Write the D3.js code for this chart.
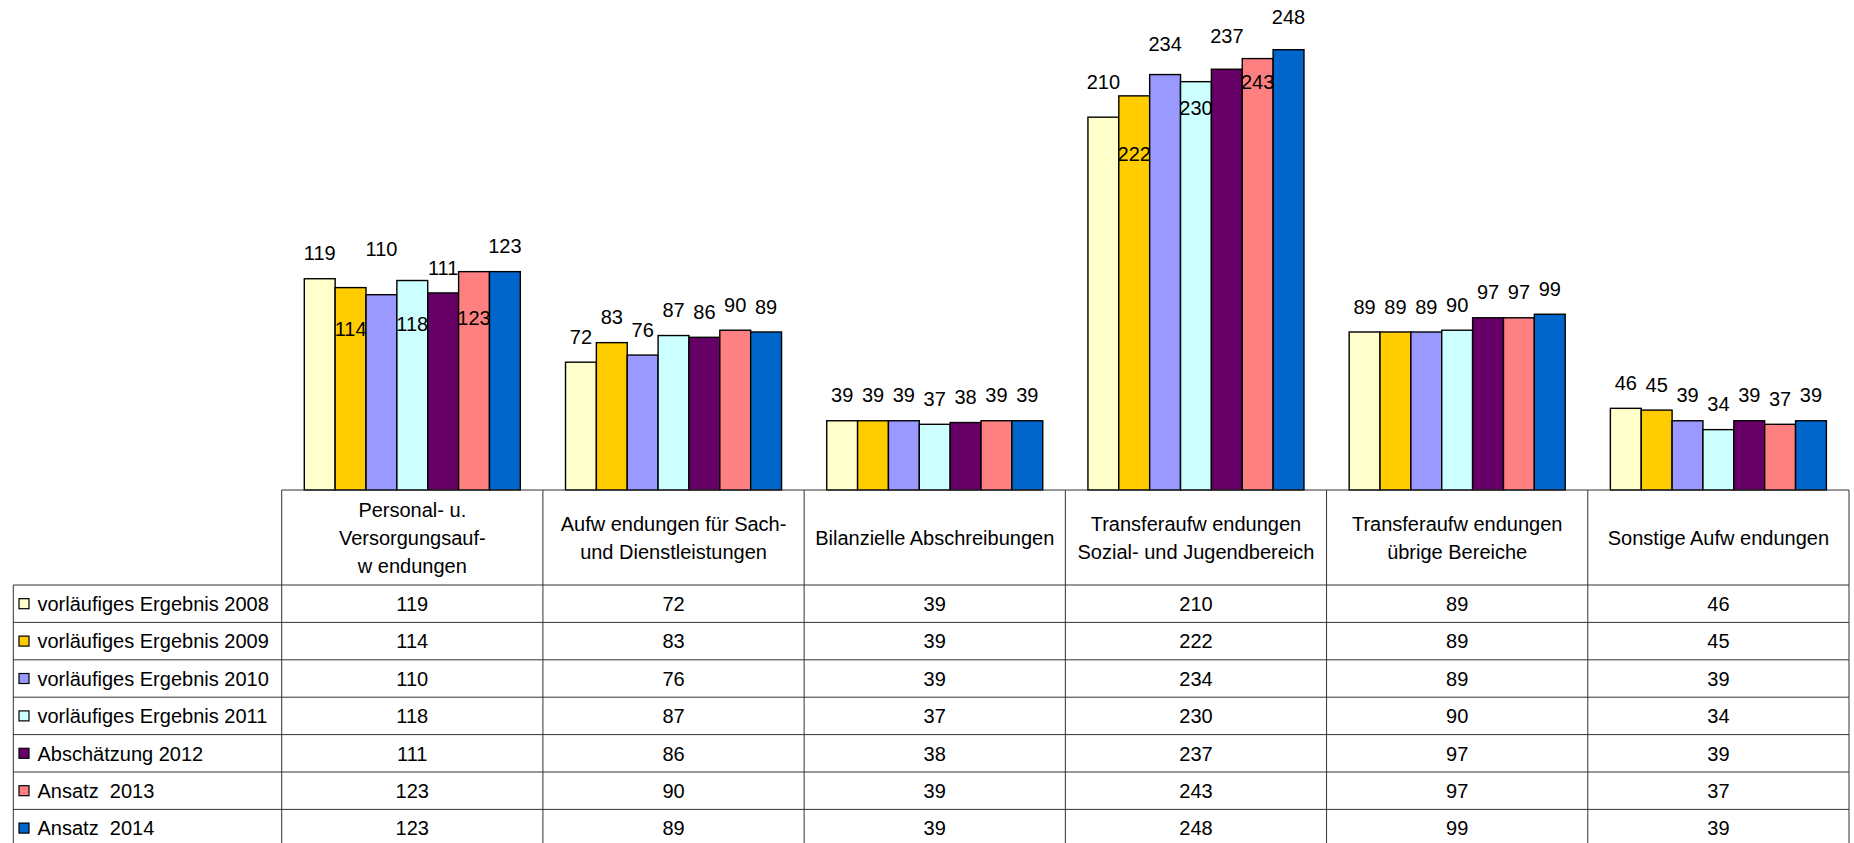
<!DOCTYPE html>
<html>
<head>
<meta charset="utf-8">
<script src="https://cdn.jsdelivr.net/npm/d3@7"></script>
<style>
  body { margin: 0; background: #fff; }
  text { font-family: "Liberation Sans", Arial, sans-serif; fill: #000; }
</style>
</head>
<body>
<div id="chart"></div>
<script>
// Category headers (one array entry per text line)
const categories = [
    ["Personal- u.", "Versorgungsauf-", "w endungen"],
    ["Aufw endungen für Sach-", "und Dienstleistungen"],
    ["Bilanzielle Abschreibungen"],
    ["Transferaufw endungen", "Sozial- und Jugendbereich"],
    ["Transferaufw endungen", "übrige Bereiche"],
    ["Sonstige Aufw endungen"]
];

const seriesNames = [
    "vorläufiges Ergebnis 2008",
    "vorläufiges Ergebnis 2009",
    "vorläufiges Ergebnis 2010",
    "vorläufiges Ergebnis 2011",
    "Abschätzung 2012",
    "Ansatz  2013",
    "Ansatz  2014"
];

// values[series][category]
const values = [
    [119, 72, 39, 210, 89, 46],
    [114, 83, 39, 222, 89, 45],
    [110, 76, 39, 234, 89, 39],
    [118, 87, 37, 230, 90, 34],
    [111, 86, 38, 237, 97, 39],
    [123, 90, 39, 243, 97, 37],
    [123, 89, 39, 248, 99, 39]
];

const colors = ["#FFFFCC", "#FFCC00", "#9999FF", "#CCFFFF", "#660066", "#FF8080", "#0066CC"];

// extra vertical nudge of value labels (px), labelNudge[series][category]
const labelNudge = [
    [0, 0, 0, -9.5, 0, 0],
    [66.5, 0, 0, 83.5, 0, 0],
    [-20.5, 0, 0, -5.5, 0, 0],
    [68.5, 0, 0, 51.8, 0, 0],
    [0, 0, 0, -7.8, 0, 0],
    [71.5, 0, 0, 49, 0, 0],
    [0, 0, 0, -7.8, 0, 0]
];

const width = 1854, height = 843;
const baseY = 490;
const tableLeft = 281.7, tableRight = 1849, legendLeft = 13.3;
const headerBottom = 585, rowH = 37.4;

const svg = d3.select("#chart").append("svg")
    .attr("width", width)
    .attr("height", height);

const catIdx = d3.range(categories.length);
const serIdx = d3.range(seriesNames.length);

const x0 = d3.scaleBand().domain(catIdx).range([tableLeft, tableRight]);
const x1 = d3.scaleBand().domain(serIdx).range([0, x0.bandwidth()]).paddingOuter(0.732);
const y = d3.scaleLinear().domain([0, 276]).range([baseY, 0]);
const rowY = d3.scaleBand().domain(serIdx).range([headerBottom, headerBottom + rowH * serIdx.length]);

// bars
const groups = svg.append("g").selectAll("g")
    .data(catIdx)
    .join("g")
    .attr("transform", c => `translate(${x0(c)},0)`);

groups.selectAll("rect")
    .data(c => serIdx.map(s => ({ s, c, v: values[s][c] })))
    .join("rect")
    .attr("x", d => x1(d.s))
    .attr("y", d => y(d.v))
    .attr("width", x1.bandwidth())
    .attr("height", d => baseY - y(d.v))
    .attr("fill", d => colors[d.s])
    .attr("stroke", "#000")
    .attr("stroke-width", 1.4);

// value labels
groups.selectAll("text")
    .data(c => serIdx.map(s => ({ s, c, v: values[s][c] })))
    .join("text")
    .attr("x", d => x1(d.s) + x1.bandwidth() / 2)
    .attr("y", d => y(d.v) - 25.5 + labelNudge[d.s][d.c])
    .attr("dy", "0.36em")
    .attr("text-anchor", "middle")
    .attr("font-size", "20px")
    .text(d => d.v);

// data table
const table = svg.append("g");
const lineColor = "#333";

// horizontal lines
table.append("line")
    .attr("x1", tableLeft).attr("x2", tableRight)
    .attr("y1", baseY).attr("y2", baseY)
    .attr("stroke", lineColor);
serIdx.forEach(s => {
    table.append("line")
        .attr("x1", legendLeft).attr("x2", tableRight)
        .attr("y1", rowY(s)).attr("y2", rowY(s))
        .attr("stroke", lineColor);
});
table.append("line")
    .attr("x1", legendLeft).attr("x2", tableRight)
    .attr("y1", rowY.range()[1]).attr("y2", rowY.range()[1])
    .attr("stroke", lineColor);

// vertical lines
table.append("line")
    .attr("x1", legendLeft).attr("x2", legendLeft)
    .attr("y1", headerBottom).attr("y2", rowY.range()[1])
    .attr("stroke", lineColor);
catIdx.concat([categories.length]).forEach(c => {
    const xx = c < categories.length ? x0(c) : tableRight;
    table.append("line")
        .attr("x1", xx).attr("x2", xx)
        .attr("y1", baseY).attr("y2", rowY.range()[1])
        .attr("stroke", lineColor);
});

// header texts
const headerMid = (baseY + headerBottom) / 2;
const lineH = 28;
catIdx.forEach(c => {
    const lines = categories[c];
    const top = headerMid - (lines.length - 1) * lineH / 2;
    lines.forEach((t, i) => {
        table.append("text")
            .attr("x", x0(c) + x0.bandwidth() / 2)
            .attr("y", top + i * lineH)
            .attr("dy", "0.36em")
            .attr("text-anchor", "middle")
            .attr("font-size", "20px")
            .style("white-space", "pre")
            .text(t);
    });
});

// legend column
serIdx.forEach(s => {
    const cy = rowY(s) + rowY.bandwidth() / 2;
    table.append("rect")
        .attr("x", 19).attr("y", cy - 5)
        .attr("width", 10).attr("height", 10)
        .attr("fill", colors[s])
        .attr("stroke", "#000")
        .attr("stroke-width", 1.2);
    table.append("text")
        .attr("x", 37.5)
        .attr("y", cy)
        .attr("dy", "0.36em")
        .attr("font-size", "20px")
        .style("white-space", "pre")
        .text(seriesNames[s]);

    catIdx.forEach(c => {
        table.append("text")
            .attr("x", x0(c) + x0.bandwidth() / 2)
            .attr("y", cy)
            .attr("dy", "0.36em")
            .attr("text-anchor", "middle")
            .attr("font-size", "20px")
            .text(values[s][c]);
    });
});
</script>
</body>
</html>
